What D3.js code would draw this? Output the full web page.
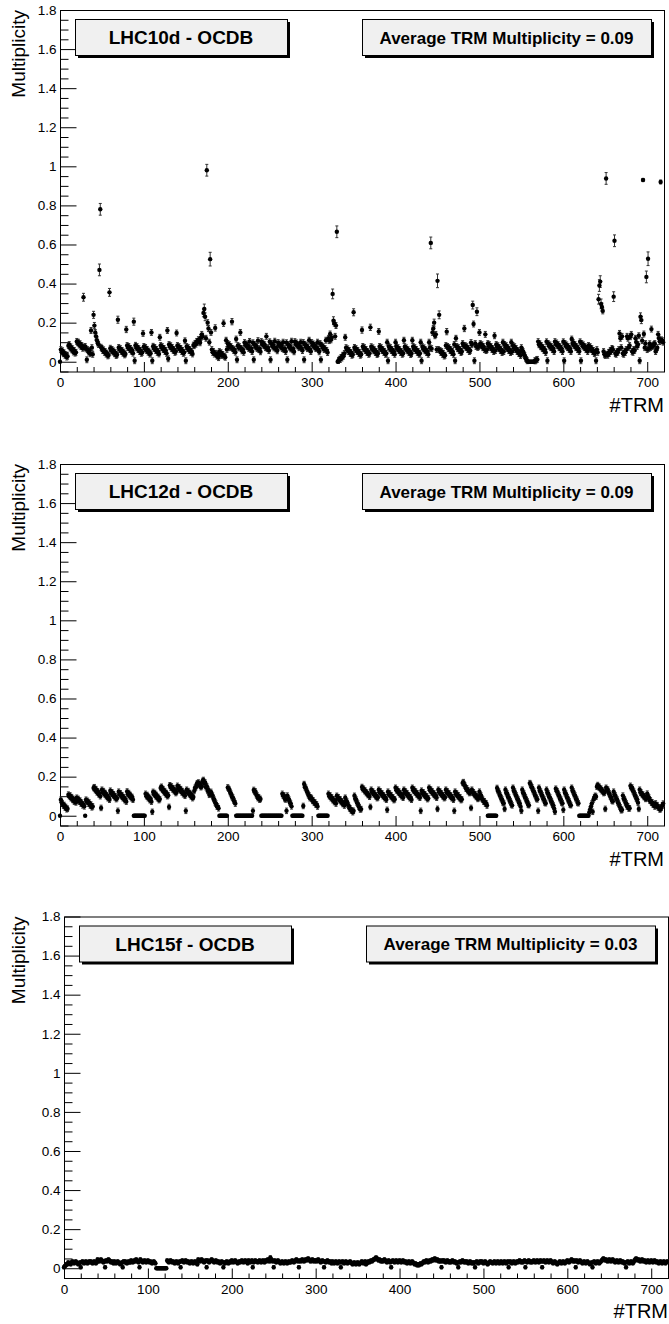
<!DOCTYPE html>
<html>
<head>
<meta charset="utf-8">
<script src="https://cdn.jsdelivr.net/npm/d3@7"></script>
<style>
  body { margin: 0; background: #fff; }
  svg { display: block; }
  text { font-family: "Liberation Sans", Arial, Helvetica, sans-serif; }
</style>
</head>
<body>
<svg id="chart" width="669" height="1324"></svg>
<script>
// Run periods and their average TRM multiplicity
const periods = ["LHC10d - OCDB", "LHC12d - OCDB", "LHC15f - OCDB"];
const averages = ["0.09", "0.09", "0.03"];

// Axis ticks
const yTicks = [0, 0.2, 0.4, 0.6, 0.8, 1, 1.2, 1.4, 1.6, 1.8];
const yTickLabels = ["0", "0.2", "0.4", "0.6", "0.8", "1", "1.2", "1.4", "1.6", "1.8"];
const xTicks = [0, 100, 200, 300, 400, 500, 600, 700];
const xTickLabels = ["0", "100", "200", "300", "400", "500", "600", "700"];

// Multiplicity per TRM (index 0..719), LHC10d
const multLHC10d = [
  0,.062,.05,.056,.041,.045,.033,.036,.024,.028,
  .082,.088,.07,.076,.061,.066,.05,.058,.044,.048,
  .104,.097,.1,.086,.092,.078,.083,.069,.33,.074,
  .078,.066,.01,.062,.05,.057,.041,.16,.072,.038,
  .24,.185,.15,.13,.11,.096,.088,.47,.78,.074,
  .068,.057,.061,.048,.052,.039,.044,.03,.034,.355,
  .069,.058,.063,.05,.055,.041,.046,.032,.036,.215,
  .073,.062,.067,.053,.058,.044,.049,.035,.04,.165,
  .083,.072,.078,.063,.068,.054,.059,.044,.205,.005,
  .084,.071,.077,.062,.067,.052,.058,.043,.048,.145,
  .078,.068,.073,.058,.063,.049,.054,.039,.044,.15,
  .005,.079,.068,.073,.058,.063,.048,.053,.04,.125,
  .083,.072,.077,.062,.068,.053,.058,.043,.16,.015,
  .088,.077,.082,.067,.072,.058,.062,.048,.053,.147,
  .083,.072,.077,.062,.068,.053,.058,.043,.048,.107,
  .005,.078,.067,.072,.057,.062,.048,.053,.04,.085,
  .082,.094,.09,.104,.1,.113,.108,.097,.124,.14,
  .13,.25,.27,.23,.12,.98,.2,.17,.1,.525,
  .15,.062,.048,.052,.039,.173,.043,.029,.033,.021,
  .052,.041,.046,.032,.037,.197,.028,.023,.11,.063,
  .093,.081,.087,.072,.077,.205,.067,.058,.062,.049,
  .116,.01,.083,.071,.077,.15,.068,.056,.061,.048,
  .098,.086,.091,.077,.082,.068,.104,.063,.068,.052,
  .097,.01,.088,.076,.081,.067,.108,.062,.067,.051,
  .103,.091,.096,.082,.087,.072,.13,.067,.072,.057,
  .102,.01,.094,.08,.085,.071,.105,.066,.071,.056,
  .098,.086,.091,.076,.082,.067,.1,.062,.067,.052,
  .097,.01,.088,.075,.081,.066,.105,.061,.066,.051,
  .103,.091,.096,.081,.087,.072,.077,.1,.069,.057,
  .098,.01,.089,.076,.082,.067,.072,.11,.063,.052,
  .098,.086,.091,.076,.082,.067,.072,.1,.063,.051,
  .093,.01,.084,.071,.076,.062,.067,.11,.058,.047,
  .12,.108,.142,.112,.124,.347,.21,.197,.13,.185,
  .665,0,.006,.013,.011,.022,.019,.033,.029,.042,
  .125,.072,.061,.066,.052,.057,.042,.047,.033,.037,
  .253,.073,.062,.067,.052,.058,.043,.048,.033,.038,
  .162,.078,.066,.072,.057,.062,.047,.052,.038,.043,
  .176,.077,.066,.071,.056,.061,.047,.052,.037,.042,
  .155,.078,.067,.072,.057,.062,.048,.053,.038,.043,
  .1,.005,.078,.066,.072,.057,.062,.047,.052,.038,
  .1,.078,.066,.072,.057,.062,.047,.052,.038,.043,
  .11,.077,.066,.071,.056,.061,.047,.052,.037,.042,
  .11,.078,.067,.072,.057,.062,.048,.053,.038,.043,
  .1,.005,.077,.066,.071,.056,.061,.047,.052,.038,
  .1,.072,.608,.067,.15,.17,.2,.133,.14,.062,
  .414,.063,.24,.058,.047,.052,.038,.043,.029,.033,
  .083,.154,.078,.067,.072,.057,.062,.047,.052,.038,
  .088,.005,.12,.078,.067,.072,.057,.062,.047,.052,
  .093,.082,.17,.083,.072,.077,.062,.067,.052,.057,
  .098,.087,.29,.193,.005,.093,.078,.256,.073,.078,
  .15,.093,.082,.087,.072,.077,.062,.14,.057,.062,
  .093,.082,.087,.072,.077,.062,.067,.052,.133,.057,
  .088,.077,.082,.067,.072,.057,.062,.047,.1,.052,
  .088,.077,.082,.067,.072,.057,.062,.047,.1,.052,
  .083,.072,.077,.062,.067,.052,.057,.042,.047,.032,
  .072,.058,.052,.038,.032,.018,.012,.005,0,0,
  0,0,0,0,0,0,.005,.005,.01,.012,
  .103,.087,.092,.077,.082,.067,.072,.057,.062,.047,
  .102,.005,.093,.08,.086,.072,.077,.062,.067,.052,
  .103,.091,.096,.082,.087,.072,.077,.062,.067,.052,
  .102,.005,.093,.08,.086,.072,.077,.062,.067,.052,
  .116,.092,.097,.082,.087,.072,.077,.062,.067,.052,
  .102,.005,.093,.08,.086,.072,.077,.062,.067,.052,
  .083,.072,.077,.062,.067,.052,.057,.042,.047,.005,
  .062,.048,.32,.39,.41,.296,.28,.26,.052,.038,
  .032,.938,.038,.033,.048,.043,.058,.053,.068,.063,
  .333,.619,.042,.038,.052,.048,.062,.145,.12,.072,
  .13,.043,.038,.053,.048,.063,.13,.12,.073,.083,
  .128,.14,.053,.048,.063,.058,.12,.1,.078,.088,
  .133,.005,.23,.213,.108,.93,.142,.072,.093,.434,
  .062,.527,.068,.092,.073,.167,.078,.083,.088,.093,
  .052,.063,.072,.14,.12,.103,.92,.112,.108,.1
];

// Multiplicity per TRM, LHC12d
const multLHC12d = [
  0,.082,.068,.063,.052,.055,.042,.045,.033,.036,
  .108,.1,.104,.09,.095,.081,.086,.072,.077,.068,
  .092,.081,.086,.072,.077,.062,.067,.053,.058,.048,
  0,.082,.072,.076,.062,.067,.052,.057,.043,.048,
  .142,.146,.131,.136,.12,.125,.11,.115,.1,.04,
  .133,.12,.126,.11,.116,.1,.105,.09,.095,.082,
  .128,.115,.12,.105,.11,.095,.1,.085,.09,.025,
  .123,.11,.115,.1,.105,.09,.095,.08,.085,.072,
  .124,.11,.116,.1,.106,.09,.096,.082,0,0,
  0,0,0,0,0,0,0,0,0,0,
  0,0,.112,.1,.106,.09,.096,.08,.086,.072,
  .02,.122,.11,.116,.1,.106,.09,.096,.08,.085,
  .142,.148,.132,.136,.12,.126,.11,.116,.1,.105,
  .045,.156,.144,.15,.135,.141,.126,.131,.116,.121,
  .153,.14,.146,.13,.136,.12,.126,.11,.116,.102,
  .025,.133,.12,.126,.11,.116,.1,.106,.09,.096,
  .127,.143,.146,.163,.166,.17,.157,.162,.146,.151,
  .178,.183,.166,.17,.146,.151,.127,.132,.107,.112,
  .122,.107,.103,.086,.082,.066,.062,.048,.046,.038,
  0,0,0,0,0,0,0,0,0,0,
  .145,.138,.133,.116,.112,.096,.094,.078,.073,.062,
  0,0,0,0,0,0,0,0,0,0,
  0,0,0,0,0,0,0,0,0,0,
  .025,.132,.122,.124,.106,.104,.09,.095,.082,.086,
  0,0,0,0,0,0,0,0,0,0,
  0,0,0,0,0,0,0,0,0,0,
  0,0,0,0,0,.112,.102,.104,.086,.083,
  .025,.103,.087,.083,.067,.063,.048,0,0,0,
  0,0,0,0,0,0,0,0,0,0,
  .05,.162,.146,.143,.126,.122,.106,.104,.09,.094,
  .088,.076,.078,.066,.068,.056,.058,.047,0,0,
  0,0,0,0,0,0,0,0,0,0,
  .112,.1,.104,.09,.094,.08,.084,.07,.074,.062,
  .102,.09,.094,.08,.084,.07,.074,.06,.064,.052,
  .092,.076,.073,.057,.053,.038,.037,.027,.028,.018,
  .025,.102,.086,.083,.066,.063,.047,.043,.032,.034,
  .147,.136,.138,.126,.128,.116,.118,.106,.108,.097,
  .045,.133,.12,.124,.11,.114,.1,.104,.09,.094,
  .133,.12,.124,.11,.114,.1,.104,.09,.094,.082,
  .03,.123,.11,.114,.1,.104,.09,.094,.08,.084,
  .143,.13,.134,.12,.124,.11,.114,.1,.104,.092,
  .133,.12,.124,.11,.114,.1,.104,.09,.094,.082,
  .143,.13,.134,.12,.124,.11,.114,.1,.104,.092,
  .025,.128,.115,.12,.105,.11,.095,.1,.085,.09,
  .143,.13,.134,.12,.124,.11,.114,.1,.104,.092,
  .035,.133,.12,.124,.11,.114,.1,.104,.09,.094,
  .133,.12,.124,.11,.114,.1,.104,.09,.094,.082,
  .025,.123,.11,.114,.1,.104,.09,.094,.08,.084,
  .168,.172,.156,.153,.138,.14,.126,.128,.116,.118,
  .04,.133,.117,.12,.106,.11,.096,.1,.086,.09,
  .123,.106,.103,.086,.083,.072,.074,.062,.064,.052,
  0,0,0,0,0,0,0,0,0,0,
  0,.142,.127,.124,.106,.103,.086,.083,.066,.064,
  .035,.133,.116,.114,.096,.094,.076,.074,.057,.053,
  .143,.126,.124,.106,.104,.086,.084,.066,.064,.047,
  .025,.133,.116,.114,.096,.094,.076,.074,.056,.054,
  .167,.163,.146,.144,.126,.124,.106,.104,.086,.084,
  .025,.143,.126,.124,.106,.104,.086,.084,.066,.064,
  .133,.116,.114,.096,.094,.076,.074,.056,.054,.037,
  .02,.138,.126,.124,.106,.104,.086,.084,.066,.064,
  .03,.133,.116,.114,.096,.094,.076,.074,.056,.054,
  .143,.126,.124,.106,.104,.086,.084,.066,.064,0,
  0,0,0,0,0,0,0,0,0,0,
  0,.018,.033,.047,.063,.02,.083,.093,.102,.097,
  .148,.157,.146,.148,.136,.138,.126,.128,.116,.118,
  .035,.143,.132,.134,.116,.114,.097,.094,.077,.074,
  .123,.106,.104,.086,.084,.066,.064,.047,.043,.028,
  .03,.103,.086,.084,.066,.064,.047,.048,.037,.038,
  .153,.142,.144,.126,.124,.106,.104,.087,.084,.067,
  .035,.133,.117,.118,.106,.108,.096,.098,.086,.088,
  .113,.097,.094,.077,.078,.066,.068,.056,.058,.047,
  .063,.052,.054,.042,.043,.032,.034,.042,.053,.062
];

// Multiplicity per TRM, LHC15f
const multLHC15f = [
  .005,.01,.015,.02,.02,.03,.025,.025,.02,.03,
  .035,.03,.025,.03,.035,.03,.025,.02,.025,.03,
  .005,.03,.035,.03,.025,.03,.035,.03,.025,.03,
  .035,.03,.035,.03,.025,.03,.035,.03,.025,.03,
  .045,.04,.035,.04,.045,.04,.035,.03,.035,.005,
  .04,.035,.04,.045,.04,.035,.03,.035,.03,.025,
  .035,.03,.025,.03,.035,.03,.025,.02,.025,.03,
  .005,.035,.03,.035,.03,.025,.03,.035,.03,.03,
  .04,.035,.03,.035,.04,.035,.045,.04,.035,.03,
  .005,.045,.04,.035,.03,.035,.04,.035,.03,.035,
  .04,.035,.03,.035,.03,.025,.03,.035,.03,.025,
  0,0,0,0,0,0,0,0,0,0,
  0,0,0,.04,.035,.03,.035,.04,.035,.03,
  .035,.03,.025,.03,.035,.03,.025,.03,.035,.005,
  .035,.04,.035,.03,.035,.04,.035,.03,.035,.03,
  .025,.03,.035,.03,.025,.03,.035,.03,.025,.02,
  .045,.04,.035,.04,.045,.04,.035,.03,.035,.04,
  .005,.04,.035,.03,.035,.04,.045,.04,.035,.03,
  .035,.04,.035,.03,.035,.03,.025,.03,.035,.03,
  .005,.03,.025,.03,.035,.03,.025,.03,.035,.03,
  .04,.035,.03,.035,.04,.035,.03,.025,.03,.035,
  .03,.035,.04,.035,.03,.035,.04,.035,.03,.025,
  .04,.035,.03,.035,.04,.005,.03,.035,.04,.035,
  .035,.03,.035,.04,.035,.03,.035,.04,.035,.03,
  .04,.035,.04,.045,.04,.035,.055,.045,.04,.035,
  .005,.04,.035,.03,.035,.04,.035,.03,.025,.03,
  .035,.03,.025,.03,.035,.03,.025,.03,.035,.03,
  .03,.035,.04,.035,.03,.035,.04,.045,.04,.035,
  .005,.04,.035,.04,.045,.04,.035,.04,.045,.04,
  .045,.05,.045,.04,.035,.04,.045,.04,.035,.04,
  .04,.035,.04,.045,.04,.035,.03,.035,.04,.035,
  .005,.035,.03,.035,.04,.035,.03,.035,.03,.025,
  .035,.03,.025,.03,.035,.03,.025,.03,.035,.03,
  .005,.03,.035,.03,.025,.03,.035,.03,.025,.03,
  .03,.035,.03,.025,.02,.025,.03,.025,.02,.025,
  .03,.025,.02,.025,.03,.035,.03,.025,.03,.035,
  .02,.025,.03,.035,.03,.035,.04,.035,.04,.045,
  .045,.05,.055,.05,.045,.04,.045,.04,.035,.04,
  .035,.04,.045,.04,.035,.03,.035,.04,.035,.03,
  .005,.035,.04,.035,.03,.035,.04,.035,.03,.035,
  .04,.035,.03,.035,.04,.035,.03,.035,.03,.025,
  .03,.035,.03,.025,.03,.035,.03,.025,.02,.025,
  .02,.015,.02,.015,.02,.025,.02,.025,.03,.035,
  .03,.035,.04,.035,.03,.035,.04,.035,.04,.045,
  .04,.045,.05,.045,.04,.045,.04,.035,.04,.035,
  .005,.04,.035,.04,.035,.03,.035,.04,.035,.03,
  .035,.03,.035,.04,.035,.03,.035,.03,.025,.03,
  .005,.03,.035,.03,.035,.04,.035,.03,.035,.03,
  .035,.03,.025,.03,.035,.03,.025,.03,.025,.03,
  .005,.03,.035,.03,.025,.03,.035,.03,.035,.03,
  .025,.03,.035,.03,.025,.02,.025,.03,.035,.03,
  .03,.025,.03,.035,.03,.025,.03,.035,.03,.025,
  .03,.035,.03,.025,.03,.035,.03,.025,.03,.035,
  .005,.03,.035,.03,.025,.03,.035,.03,.025,.03,
  .035,.03,.035,.04,.035,.03,.035,.03,.035,.04,
  .005,.035,.03,.035,.04,.035,.03,.035,.03,.035,
  .04,.035,.03,.035,.04,.035,.03,.035,.04,.035,
  .005,.035,.04,.035,.03,.035,.04,.035,.03,.035,
  .04,.035,.03,.025,.03,.035,.03,.025,.02,.025,
  .03,.035,.03,.025,.03,.035,.03,.025,.03,.035,
  .04,.035,.03,.035,.04,.045,.04,.035,.04,.035,
  .005,.04,.035,.03,.035,.04,.035,.03,.025,.03,
  .035,.03,.025,.03,.035,.03,.025,.02,.025,.03,
  .005,.03,.035,.03,.025,.03,.035,.03,.025,.03,
  .035,.04,.045,.05,.045,.04,.045,.04,.035,.04,
  .045,.04,.035,.04,.045,.04,.035,.03,.035,.04,
  .035,.03,.035,.04,.035,.03,.035,.03,.025,.03,
  .005,.03,.035,.03,.025,.03,.035,.03,.025,.03,
  .04,.045,.05,.045,.04,.045,.04,.035,.04,.045,
  .04,.035,.04,.035,.03,.035,.04,.035,.03,.035,
  .04,.035,.03,.035,.04,.035,.03,.035,.03,.025,
  .03,.035,.03,.025,.03,.035,.03,.025,.03,.035
];

// Statistical error: typical value per period, plus larger ones for isolated TRMs [index, error]
const errTypical = [0.015, 0.014, 0.008];
const errLHC10d = [
  [28,.02],[37,.015],[40,.018],[41,.016],[47,.03],[48,.03],[59,.02],[69,.018],[79,.016],[88,.018],
  [99,.015],[109,.015],[119,.015],[128,.015],[139,.015],[171,.02],[172,.025],[173,.02],[175,.03],
  [179,.035],[185,.016],[195,.016],[205,.016],[215,.015],[325,.025],[326,.02],[330,.03],[350,.018],
  [360,.016],[370,.016],[380,.015],[442,.03],[446,.018],[450,.035],[452,.02],[461,.016],[482,.016],
  [492,.02],[497,.02],[642,.025],[643,.03],[644,.03],[645,.025],[646,.02],[651,.03],[660,.025],
  [661,.03],[692,.02],[693,.018],[695,.008],[699,.03],[701,.035],[705,.015],[716,.01]
];

const panelData = [
  { name: periods[0], avg: averages[0], values: multLHC10d, err: errTypical[0], errFix: errLHC10d, left: 60, top: 10 },
  { name: periods[1], avg: averages[1], values: multLHC12d, err: errTypical[1], errFix: [], left: 60, top: 464 },
  { name: periods[2], avg: averages[2], values: multLHC15f, err: errTypical[2], errFix: [], left: 64, top: 916.5 }
];

const plotW = 604, plotH = 361.5;
const svg = d3.select("#chart");

panelData.forEach(p => {
  const g = svg.append("g").attr("transform", `translate(${p.left},${p.top})`);
  const x = d3.scaleLinear().domain([0, 720]).range([0, plotW]);
  const y = d3.scaleLinear().domain([-0.05, 1.8]).range([plotH, 0]);

  // frame
  g.append("rect")
    .attr("x", 0.5).attr("y", 0.5)
    .attr("width", plotW).attr("height", plotH)
    .attr("fill", "none").attr("stroke", "#000").attr("stroke-width", 1);

  // y axis: major and minor ticks pointing into the frame
  const yMinor = d3.range(-0.05, 1.8001, 0.05).filter(v => Math.abs(Math.round(v * 5) - v * 5) > 1e-6);
  g.append("g")
    .attr("transform", "translate(0.5,0)")
    .call(d3.axisLeft(y).tickValues(yMinor).tickSize(-8).tickFormat(""))
    .call(s => s.select(".domain").remove());
  const yAx = g.append("g")
    .attr("transform", "translate(0.5,0)")
    .call(d3.axisLeft(y).tickValues(yTicks).tickSize(-16).tickPadding(4)
      .tickFormat((d, i) => yTickLabels[i]));
  yAx.select(".domain").remove();
  yAx.selectAll("text").attr("font-size", 13.5).attr("fill", "#000")
    .attr("font-family", "'Liberation Sans', Arial, sans-serif");

  // x axis
  const xMinor = d3.range(20, 720, 20).filter(v => v % 100 !== 0);
  g.append("g")
    .attr("transform", `translate(0,${plotH + 0.5})`)
    .call(d3.axisBottom(x).tickValues(xMinor).tickSize(-5).tickFormat(""))
    .call(s => s.select(".domain").remove());
  const xAx = g.append("g")
    .attr("transform", `translate(0,${plotH + 0.5})`)
    .call(d3.axisBottom(x).tickValues(xTicks).tickSize(-10).tickPadding(5.5)
      .tickFormat((d, i) => xTickLabels[i]));
  xAx.select(".domain").remove();
  xAx.selectAll("text").attr("font-size", 13.5).attr("fill", "#000")
    .attr("font-family", "'Liberation Sans', Arial, sans-serif");
  g.selectAll(".tick line").attr("stroke", "#000");

  // axis titles
  g.append("text")
    .attr("transform", `translate(${25 - p.left},0) rotate(-90)`)
    .attr("text-anchor", "end")
    .attr("font-size", 19)
    .text("Multiplicity");
  g.append("text")
    .attr("x", plotW).attr("y", plotH + 40)
    .attr("text-anchor", "end")
    .attr("font-size", 20)
    .text("#TRM");

  // points with error bars
  const errOf = new Map(p.errFix);
  const pts = p.values.map((v, i) => ({ i, v, e: v === 0 ? 0 : (errOf.has(i) ? errOf.get(i) : p.err) }));
  const marks = g.append("g");
  const withErr = pts.filter(d => d.e > 0);
  const lo = d => y(Math.max(-0.05, d.v - d.e));
  const hi = d => y(d.v + d.e);
  marks.selectAll("line.err").data(withErr).join("line")
    .attr("class", "err")
    .attr("x1", d => x(d.i)).attr("x2", d => x(d.i))
    .attr("y1", lo).attr("y2", hi)
    .attr("stroke", "#333").attr("stroke-width", 1);
  marks.selectAll("line.capTop").data(withErr).join("line")
    .attr("class", "capTop")
    .attr("x1", d => x(d.i) - 1.5).attr("x2", d => x(d.i) + 1.5)
    .attr("y1", hi).attr("y2", hi)
    .attr("stroke", "#333").attr("stroke-width", 1);
  marks.selectAll("line.capBot").data(withErr).join("line")
    .attr("class", "capBot")
    .attr("x1", d => x(d.i) - 1.5).attr("x2", d => x(d.i) + 1.5)
    .attr("y1", lo).attr("y2", lo)
    .attr("stroke", "#333").attr("stroke-width", 1);
  marks.selectAll("circle").data(pts).join("circle")
    .attr("cx", d => x(d.i)).attr("cy", d => y(d.v))
    .attr("r", 2.2).attr("fill", "#000");

  // label boxes with drop shadow
  const boxes = [
    { x0: 15, x1: 227, text: p.name, size: 19 },
    { x0: 302, x1: 591, text: "Average TRM Multiplicity = " + p.avg, size: 17 }
  ];
  boxes.forEach(b => {
    g.append("rect")
      .attr("x", b.x0 + 3).attr("y", 12)
      .attr("width", b.x1 - b.x0).attr("height", 36)
      .attr("fill", "#000");
    g.append("rect")
      .attr("x", b.x0 + 0.5).attr("y", 9.5)
      .attr("width", b.x1 - b.x0).attr("height", 36)
      .attr("fill", "#f0f0f0").attr("stroke", "#000").attr("stroke-width", 1);
    g.append("text")
      .attr("x", (b.x0 + b.x1) / 2).attr("y", 27.5)
      .attr("dy", "0.36em")
      .attr("text-anchor", "middle")
      .attr("font-weight", "bold")
      .attr("font-size", b.size)
      .text(b.text);
  });
});
</script>
</body>
</html>
